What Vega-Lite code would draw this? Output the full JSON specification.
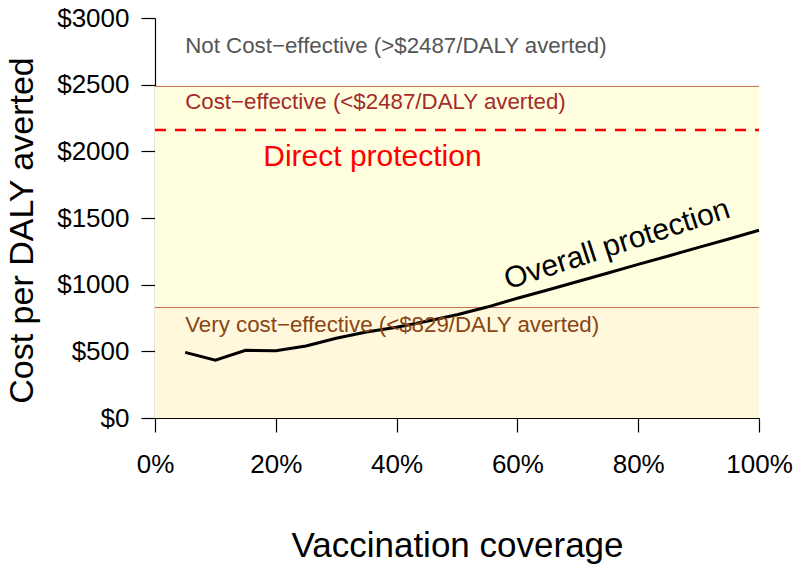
{
  "$schema": "https://vega.github.io/schema/vega-lite/v6.json",
  "autosize": {"type": "none"},
  "padding": {"left": 155, "top": 18, "right": 41, "bottom": 153},
  "width": 604,
  "height": 400,
  "background": "white",
  "config": {
    "font": "Liberation Sans",
    "view": {"stroke": null},
    "axis": {"grid": false, "domainColor": "black", "tickColor": "black", "labelColor": "black", "titleColor": "black", "labelFont": "Liberation Sans", "titleFont": "Liberation Sans", "titleFontWeight": "normal"}
  },
  "resolve": {"scale": {"color": "independent"}},
  "layer": [
    {
      "data": {"values": [
        {"band": "Very cost-effective", "lo": 0, "hi": 829},
        {"band": "Cost-effective", "lo": 829, "hi": 2487}
      ]},
      "mark": {"type": "rect", "x": 0, "x2": {"expr": "width"}},
      "encoding": {
        "y": {"field": "lo", "type": "quantitative", "scale": {"domain": [0, 3000], "nice": false, "zero": true},
          "axis": {"values": [0, 500, 1000, 1500, 2000, 2500, 3000], "labelExpr": "'$' + datum.value", "labelFontSize": 26, "tickSize": 14, "labelPadding": 12, "labelFlush": false, "domainWidth": 1.2, "tickWidth": 1.2,
            "title": "Cost per DALY averted", "titleFontSize": 34, "titleAngle": -90, "titleX": -133, "titleY": 212, "titleAlign": "center", "titleBaseline": "middle"}},
        "y2": {"field": "hi"},
        "color": {"field": "band", "type": "nominal", "scale": {"domain": ["Very cost-effective", "Cost-effective"], "range": ["#FFF8DC", "#FFFFE0"]}, "legend": null}
      }
    },
    {
      "data": {"values": [{"threshold": 829}, {"threshold": 2487}]},
      "mark": {"type": "rule", "color": "#C46A4A", "strokeWidth": 1, "x": 0, "x2": {"expr": "width"}},
      "encoding": {"y": {"field": "threshold", "type": "quantitative"}}
    },
    {
      "data": {"values": [{"direct": 2160}]},
      "mark": {"type": "rule", "color": "#FF0000", "strokeWidth": 2.5, "strokeDash": [11, 9], "x": 0, "x2": {"expr": "width"}},
      "encoding": {"y": {"field": "direct", "type": "quantitative"}}
    },
    {
      "data": {"values": [
        {"coverage": 0.05, "cost": 492},
        {"coverage": 0.10, "cost": 433},
        {"coverage": 0.15, "cost": 508},
        {"coverage": 0.20, "cost": 505},
        {"coverage": 0.25, "cost": 540},
        {"coverage": 0.30, "cost": 598},
        {"coverage": 0.35, "cost": 645},
        {"coverage": 0.40, "cost": 680},
        {"coverage": 0.45, "cost": 725},
        {"coverage": 0.50, "cost": 775},
        {"coverage": 0.55, "cost": 832},
        {"coverage": 0.60, "cost": 898},
        {"coverage": 0.65, "cost": 960},
        {"coverage": 0.70, "cost": 1024},
        {"coverage": 0.75, "cost": 1088},
        {"coverage": 0.80, "cost": 1152},
        {"coverage": 0.85, "cost": 1215},
        {"coverage": 0.90, "cost": 1280},
        {"coverage": 0.95, "cost": 1343},
        {"coverage": 1.00, "cost": 1408}
      ]},
      "mark": {"type": "line", "color": "black", "strokeWidth": 3},
      "encoding": {
        "x": {"field": "coverage", "type": "quantitative", "scale": {"domain": [0, 1], "nice": false},
          "axis": {"values": [0, 0.2, 0.4, 0.6, 0.8, 1], "format": ".0%", "labelFontSize": 26, "tickSize": 14, "labelPadding": 19, "labelFlush": false, "labelOverlap": false, "labelBound": false, "domainWidth": 1.2, "tickWidth": 1.2,
            "title": "Vaccination coverage", "titleFontSize": 35, "titleY": 127, "titleBaseline": "middle"}},
        "y": {"field": "cost", "type": "quantitative"}
      }
    },
    {
      "data": {"values": [
        {"label": "Not Cost\u2212effective (>$2487/DALY averted)", "group": "not", "lx": 0.05, "ly": 2790},
        {"label": "Cost\u2212effective (<$2487/DALY averted)", "group": "ce", "lx": 0.05, "ly": 2370},
        {"label": "Very cost\u2212effective (<$829/DALY averted)", "group": "very", "lx": 0.05, "ly": 700}
      ]},
      "mark": {"type": "text", "align": "left", "baseline": "middle", "fontSize": 22.3},
      "encoding": {
        "x": {"field": "lx", "type": "quantitative"},
        "y": {"field": "ly", "type": "quantitative"},
        "text": {"field": "label"},
        "color": {"field": "group", "type": "nominal", "scale": {"domain": ["not", "ce", "very"], "range": ["#555555", "#A52A2A", "#8B4513"]}, "legend": null}
      }
    },
    {
      "data": {"values": [{"label": "Direct protection", "lx": 0.36, "ly": 1958}]},
      "mark": {"type": "text", "align": "center", "baseline": "middle", "fontSize": 30, "color": "#FF0000"},
      "encoding": {
        "x": {"field": "lx", "type": "quantitative"},
        "y": {"field": "ly", "type": "quantitative"},
        "text": {"field": "label"}
      }
    },
    {
      "data": {"values": [{"label": "Overall protection", "lx": 0.765, "ly": 1300}]},
      "mark": {"type": "text", "align": "center", "baseline": "middle", "fontSize": 30, "color": "black", "angle": -18},
      "encoding": {
        "x": {"field": "lx", "type": "quantitative"},
        "y": {"field": "ly", "type": "quantitative"},
        "text": {"field": "label"}
      }
    }
  ]
}
